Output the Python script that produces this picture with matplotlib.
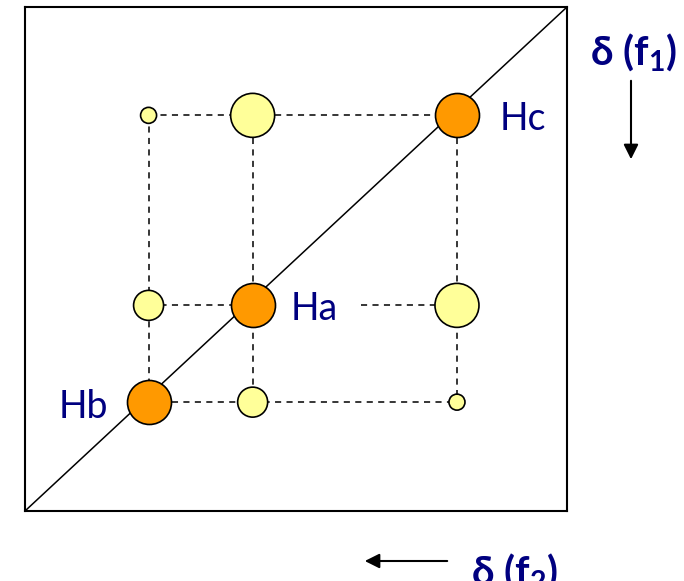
import matplotlib
matplotlib.use("Agg")
import matplotlib.pyplot as plt

plt.rcParams['mathtext.fontset'] = 'custom'
plt.rcParams['mathtext.rm'] = 'Lato:bold'
plt.rcParams['mathtext.it'] = 'Lato:bold'

# chemical shifts (ppm) of the three protons
labels = ["Hb", "Ha", "Hc"]
shifts = [7.72, 5.80, 2.03]

# cross peaks: (f2 shift, f1 shift, size class)
cross_f2 = [5.80, 7.72, 2.03, 7.72, 2.03, 5.80]
cross_f1 = [7.72, 5.80, 7.72, 2.03, 5.80, 2.03]
cross_size = [30, 30, 16, 16, 44, 44]   # diameter in px

diag_size = 44
ha_gap_end = 3.8  # where dashed line resumes after the "Ha" label

navy = "#000080"
orange = "#FF9900"
yellow = "#FFFF99"

fig = plt.figure(figsize=(6.84, 5.81), dpi=100)
ax = fig.add_axes([25/684, 70/581, 542/684, 504/581])
ax.set_xlim(10, 0)
ax.set_ylim(9.88, -0.12)
ax.set_xticks([])
ax.set_yticks([])
for s in ax.spines.values():
    s.set_linewidth(1.5)

dash = (0, (4, 3.5))
lo, hi = min(shifts), max(shifts)
# vertical dashed lines
for x in shifts:
    ax.plot([x, x], [lo, hi], color='k', lw=1.1, ls=dash, zorder=1)
# horizontal dashed lines
for name, y in zip(labels, shifts):
    if name == "Ha":
        ax.plot([hi, y], [y, y], color='k', lw=1.1, ls=dash, zorder=1)
        ax.plot([ha_gap_end, lo], [y, y], color='k', lw=1.1, ls=dash, zorder=1)
    else:
        ax.plot([hi, lo], [y, y], color='k', lw=1.1, ls=dash, zorder=1)

# diagonal, corner to corner
ax.plot([0, 1], [0, 1], color='k', lw=1.1, zorder=2, transform=ax.transAxes)

def px_to_s(d):
    return (d * 72 / 100) ** 2

ax.scatter(cross_f2, cross_f1, s=[px_to_s(d) for d in cross_size],
           c=yellow, edgecolors='k', linewidths=1.2, zorder=3)
ax.scatter(shifts, shifts, s=px_to_s(diag_size),
           c=orange, edgecolors='k', linewidths=1.2, zorder=4)

# peak labels
ax.annotate("Hc", (shifts[2], shifts[2]), xytext=(43, -4), textcoords='offset pixels',
            fontsize=27, color=navy, family='Lato', va='center', ha='left')
ax.annotate("Ha", (shifts[1], shifts[1]), xytext=(38, -4), textcoords='offset pixels',
            fontsize=27, color=navy, family='Lato', va='center', ha='left')
ax.annotate("Hb", (shifts[0], shifts[0]), xytext=(-40, -5), textcoords='offset pixels',
            fontsize=27, color=navy, family='Lato', va='center', ha='right')

# axis direction labels
fig.text(634/684, 1 - 52/581, r"δ (f$_1$)", fontsize=29, fontweight='bold',
         color=navy, family=['Lato', 'DejaVu Sans'], ha='center', va='center')
fig.text(471/684, 1 - 572/581, r"δ (f$_2$)", fontsize=29, fontweight='bold',
         color=navy, family=['Lato', 'DejaVu Sans'], ha='left', va='center')

fig.add_artist(matplotlib.patches.FancyArrowPatch(
    (631/684, 1 - 78/581), (631/684, 1 - 162/581), transform=fig.transFigure,
    arrowstyle='-|>', mutation_scale=22, lw=1.5, color='k'))
fig.add_artist(matplotlib.patches.FancyArrowPatch(
    (450/684, 1 - 561/581), (362/684, 1 - 561/581), transform=fig.transFigure,
    arrowstyle='-|>', mutation_scale=22, lw=1.5, color='k'))

fig.savefig("out.png", dpi=100)
